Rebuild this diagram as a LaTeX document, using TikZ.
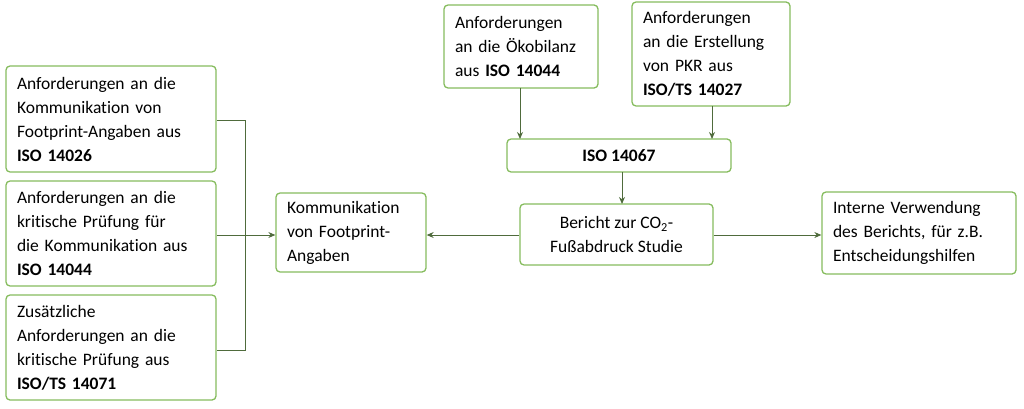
\documentclass[tikz,border=0pt]{standalone}
\usepackage{fontspec}
\setmainfont[Ligatures=NoCommon]{Carlito}
\usetikzlibrary{arrows.meta}
\definecolor{bord}{HTML}{86BC5E}
\definecolor{arr}{HTML}{4F6B3C}
\begin{document}
\begin{tikzpicture}[x=1pt,y=-1pt,
  box/.style={draw=bord,line width=1.3pt,rounded corners=4pt,align=left,inner xsep=11pt,inner ysep=4pt,font=\fontsize{17.5}{24}\selectfont,anchor=center},
  ar/.style={draw=arr,line width=1pt,-{Stealth[length=7pt,width=6pt]}},
  ln/.style={draw=arr,line width=1pt}]
\useasboundingbox (0,0) rectangle (1024,409);
\newcommand\bx[6]{\node[box,minimum width=#4pt,minimum height=#5pt,text width=#4pt-22pt] (#1) at (#2,#3) {#6};}
\bx{a}{111}{119}{210}{106}{Anforderungen an die\\Kommunikation von\\Footprint-Angaben aus\\\textbf{ISO 14026}}
\bx{b}{111}{233.5}{210}{105}{Anforderungen an die\\kritische Prüfung für\\die Kommunikation aus\\\textbf{ISO 14044}}
\bx{c}{111}{347.5}{210}{105}{Zusätzliche\\Anforderungen an die\\kritische Prüfung aus\\\textbf{ISO/TS 14071}}
\bx{k}{351}{232.5}{150}{79}{Kommunikation\\von Footprint-\\Angaben}
\bx{t1}{521}{46.5}{154}{83}{Anforderungen\\an die Ökobilanz\\aus \textbf{ISO 14044}}
\bx{t2}{711}{54}{158}{104}{Anforderungen\\an die Erstellung\\von PKR aus\\\textbf{ISO/TS 14027}}
\node[box,minimum width=224pt,minimum height=33pt,align=center] (iso) at (619,155.5) {\textbf{ISO 14067}};
\node[box,minimum width=193pt,minimum height=61pt,align=center] (ber) at (616.5,234.5) {Bericht zur CO\textsubscript{2}-\\Fußabdruck Studie};
\bx{r}{919}{233}{194}{82}{Interne Verwendung\\des Berichts, für z.B.\\Entscheidungshilfen}
\coordinate (j) at (245,235);
\draw[ln] (a.east|-0,120) -| (245,350) -- (c.east|-0,350);
\draw[ln] (b.east|-0,235) -- (j);
\draw[ar] (j) -- (k.west|-j);
\draw[ar] (520,88) -- (520,139);
\draw[ar] (712,106) -- (712,139);
\draw[ar] (622,172) -- (622,204);
\draw[ar] (ber.west|-0,235) -- (k.east|-0,235);
\draw[ar] (ber.east|-0,235) -- (r.west|-0,235);
\end{tikzpicture}
\end{document}
